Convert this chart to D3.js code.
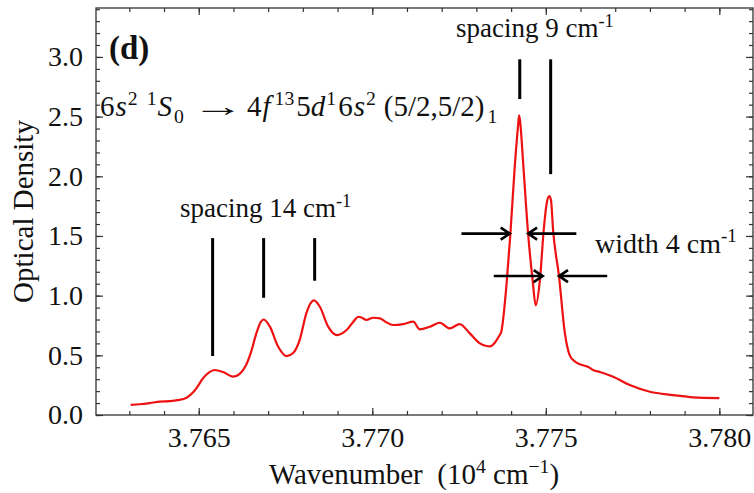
<!DOCTYPE html>
<html>
<head>
<meta charset="utf-8">
<script src="https://cdn.jsdelivr.net/npm/d3@7"></script>
<style>
  body { margin: 0; background: #fff; }
  svg { display: block; }
  text { font-family: "Liberation Serif", "Times New Roman", serif; fill: #111; }
</style>
</head>
<body>
<svg id="chart" width="754" height="493"></svg>
<script>
// Absorption spectrum: wavenumber (10^4 cm^-1) and optical density
const wavenumber = [
  3.76304, 3.76330, 3.76359, 3.76388, 3.76416, 3.76439, 3.76465, 3.76484, 3.76497, 3.76512,
  3.76529, 3.76546, 3.76570, 3.76599, 3.76618, 3.76635, 3.76650, 3.76666, 3.76679, 3.76687,
  3.76705, 3.76729, 3.76753, 3.76772, 3.76791, 3.76810, 3.76823, 3.76832, 3.76849, 3.76873,
  3.76897, 3.76926, 3.76945, 3.76960, 3.76970, 3.76983, 3.77003, 3.77022, 3.77039, 3.77060,
  3.77089, 3.77118, 3.77137, 3.77166, 3.77195, 3.77223, 3.77252, 3.77281, 3.77310, 3.77329,
  3.77339, 3.77353, 3.77365, 3.77372, 3.77377, 3.77387, 3.77398, 3.77411, 3.77420, 3.77423,
  3.77426, 3.77435, 3.77449, 3.77462, 3.77471, 3.77483, 3.77494, 3.77503, 3.77510, 3.77515,
  3.77521, 3.77538, 3.77555, 3.77569, 3.77583, 3.77598, 3.77615, 3.77627, 3.77636, 3.77656,
  3.77694, 3.77742, 3.77800, 3.77867, 3.77924, 3.78000
];
const opticalDensity = [
  0.084, 0.090, 0.100, 0.112, 0.116, 0.124, 0.145, 0.190, 0.240, 0.307,
  0.355, 0.377, 0.360, 0.321, 0.345, 0.410, 0.520, 0.684, 0.780, 0.800,
  0.740, 0.572, 0.494, 0.520, 0.630, 0.852, 0.940, 0.960, 0.907, 0.740,
  0.670, 0.712, 0.780, 0.823, 0.815, 0.796, 0.815, 0.810, 0.780, 0.754,
  0.762, 0.782, 0.717, 0.740, 0.773, 0.726, 0.762, 0.684, 0.600, 0.578,
  0.575, 0.606, 0.660, 0.700, 0.800, 1.100, 1.520, 2.100, 2.420, 2.510,
  2.460, 2.100, 1.520, 1.130, 0.920, 1.130, 1.550, 1.780, 1.834, 1.800,
  1.550, 1.164, 0.684, 0.500, 0.450, 0.425, 0.410, 0.395, 0.377, 0.360,
  0.321, 0.251, 0.195, 0.167, 0.148, 0.142
];

const xTickValues = [3.765, 3.770, 3.775, 3.780];
const yTickValues = [0.0, 0.5, 1.0, 1.5, 2.0, 2.5, 3.0];

// Peak markers: position, top and bottom (optical density units)
const markerPos = [3.76540, 3.76687, 3.76834, 3.77425, 3.77514];
const markerTop = [1.482, 1.482, 1.482, 2.98, 2.98];
const markerBottom = [0.494, 0.982, 1.125, 2.647, 2.018];

// Width arrows: tail, head (wavenumber) and level (optical density)
const arrowTail = [3.77257, 3.77588, 3.77350, 3.77677];
const arrowHead = [3.77396, 3.77449, 3.77491, 3.77538];
const arrowLevel = [1.52, 1.52, 1.164, 1.164];

const svg = d3.select("#chart");
const plotLeft = 96, plotRight = 753, plotTop = 8, plotBottom = 415;

const x = d3.scaleLinear().domain([3.76204, 3.78097]).range([plotLeft, plotRight]);
const y = d3.scaleLinear().domain([0, 3.41]).range([plotBottom, plotTop]);

const axisColor = "#333";
const inDomain = (s, v) => v >= s.domain()[0] - 1e-9 && v <= s.domain()[1] + 1e-9;
const xMinor = d3.range(3762, 3782).map(d => d / 1000).filter(v => inDomain(x, v));
const yMinor = d3.range(0, 35).map(d => d / 10).filter(v => inDomain(y, v));

function styleAxis(g) {
  g.select(".domain").remove();
  g.selectAll(".tick line").attr("stroke", axisColor).attr("stroke-width", 1.2);
}

// minor ticks (all four sides)
svg.append("g").attr("transform", `translate(0,${plotBottom})`)
  .call(d3.axisBottom(x).tickValues(xMinor).tickSize(-4).tickFormat("")).call(styleAxis);
svg.append("g").attr("transform", `translate(0,${plotTop})`)
  .call(d3.axisTop(x).tickValues(xMinor).tickSize(-4).tickFormat("")).call(styleAxis);
svg.append("g").attr("transform", `translate(${plotLeft},0)`)
  .call(d3.axisLeft(y).tickValues(yMinor).tickSize(-4).tickFormat("")).call(styleAxis);
svg.append("g").attr("transform", `translate(${plotRight},0)`)
  .call(d3.axisRight(y).tickValues(yMinor).tickSize(-4).tickFormat("")).call(styleAxis);

// major ticks
const xAxis = svg.append("g").attr("transform", `translate(0,${plotBottom})`)
  .call(d3.axisBottom(x).tickValues(xTickValues).tickSizeInner(-7).tickSizeOuter(0)
    .tickPadding(12).tickFormat(d3.format(".3f")))
  .call(styleAxis);
xAxis.selectAll("text").attr("font-size", 28).attr("fill", "#111");

const yAxis = svg.append("g").attr("transform", `translate(${plotLeft},0)`)
  .call(d3.axisLeft(y).tickValues(yTickValues).tickSizeInner(-7).tickSizeOuter(0)
    .tickPadding(13).tickFormat(d3.format(".1f")))
  .call(styleAxis);
yAxis.selectAll("text").attr("font-size", 28).attr("fill", "#111");

svg.append("g").attr("transform", `translate(0,${plotTop})`)
  .call(d3.axisTop(x).tickValues(xTickValues).tickSizeInner(-7).tickSizeOuter(0).tickFormat(""))
  .call(styleAxis);
svg.append("g").attr("transform", `translate(${plotRight},0)`)
  .call(d3.axisRight(y).tickValues(yTickValues).tickSizeInner(-7).tickSizeOuter(0).tickFormat(""))
  .call(styleAxis);

// frame
svg.append("rect")
  .attr("x", plotLeft).attr("y", plotTop)
  .attr("width", plotRight - plotLeft).attr("height", plotBottom - plotTop)
  .attr("fill", "none").attr("stroke", axisColor).attr("stroke-width", 1.3);

// spectrum
const line = d3.line()
  .x((d, i) => x(wavenumber[i]))
  .y(d => y(d))
  .curve(d3.curveMonotoneX);
svg.append("path")
  .datum(opticalDensity)
  .attr("d", line)
  .attr("fill", "none")
  .attr("stroke", "#ee1111")
  .attr("stroke-width", 2.2)
  .attr("stroke-linejoin", "round");

// peak markers
svg.append("g").selectAll("line").data(markerPos).join("line")
  .attr("x1", d => x(d)).attr("x2", d => x(d))
  .attr("y1", (d, i) => y(markerTop[i])).attr("y2", (d, i) => y(markerBottom[i]))
  .attr("stroke", "#000").attr("stroke-width", 3);

// width arrows
svg.append("g").selectAll("path").data(arrowHead).join("path")
  .attr("d", (d, i) => {
    const x0 = x(arrowTail[i]), x1 = x(d), yy = y(arrowLevel[i]);
    const dir = x1 > x0 ? 1 : -1;
    return `M${x0},${yy}L${x1},${yy}M${x1 - dir * 9},${yy - 6}L${x1},${yy}L${x1 - dir * 9},${yy + 6}`;
  })
  .attr("fill", "none").attr("stroke", "#000").attr("stroke-width", 2.6);

// rich text helper: parts = [[string, style, extraGap?]], style in "", "i", "sup", "sub"
function rich(sel, parts, size) {
  let shift = 0;
  parts.forEach(([s, st, gap]) => {
    let target = 0;
    if (st === "sup") target = -0.38 * size;
    if (st === "sub") target = 0.25 * size;
    const t = sel.append("tspan").text(s).attr("dy", target - shift);
    shift = target;
    if (st === "sup" || st === "sub") t.attr("font-size", size * 0.68);
    if (st === "i") t.attr("font-style", "italic");
    if (gap) t.attr("dx", gap);
  });
}

svg.append("text").attr("x", 109).attr("y", 59)
  .attr("font-size", 33).attr("font-weight", "bold").text("(d)");

// transition label, math-style spacing
rich(svg.append("text").attr("x", 100).attr("y", 116).attr("font-size", 29), [
  ["6", ""], ["s", "i", 1], ["2", "sup", 1], ["1", "sup", 9], ["S", "i", 1], ["0", "sub", 2]
], 29);
svg.append("text").attr("x", 192).attr("y", 116).attr("font-size", 29)
  .attr("textLength", 52).attr("lengthAdjust", "spacingAndGlyphs").text("\u2192");
rich(svg.append("text").attr("x", 247).attr("y", 116).attr("font-size", 29), [
  ["4", ""], ["f", "i", 1], ["13", "sup", 4], ["5", "", 2], ["d", "i"], ["1", "sup", 1],
  ["6", "", 2], ["s", "i", 1], ["2", "sup", 1], ["(5/2,5/2)", "", 8], ["1", "sub", 3]
], 29);

rich(svg.append("text").attr("x", 180).attr("y", 217).attr("font-size", 27),
  [["spacing 14 cm", ""], ["-1", "sup"]], 27);
rich(svg.append("text").attr("x", 456).attr("y", 37).attr("font-size", 27),
  [["spacing 9 cm", ""], ["-1", "sup"]], 27);
rich(svg.append("text").attr("x", 595).attr("y", 253).attr("font-size", 28),
  [["width 4 cm", ""], ["-1", "sup"]], 28);

// axis titles
svg.append("text")
  .attr("transform", `translate(33,${(plotTop + plotBottom) / 2}) rotate(-90)`)
  .attr("text-anchor", "middle").attr("font-size", 29).text("Optical Density");

rich(svg.append("text").attr("x", 414).attr("y", 484).attr("text-anchor", "middle").attr("font-size", 29), [
  ["Wavenumber\u00a0\u00a0(10", ""], ["4", "sup"], [" cm", ""], ["\u22121", "sup"], [")", ""]
], 29);
</script>
</body>
</html>
